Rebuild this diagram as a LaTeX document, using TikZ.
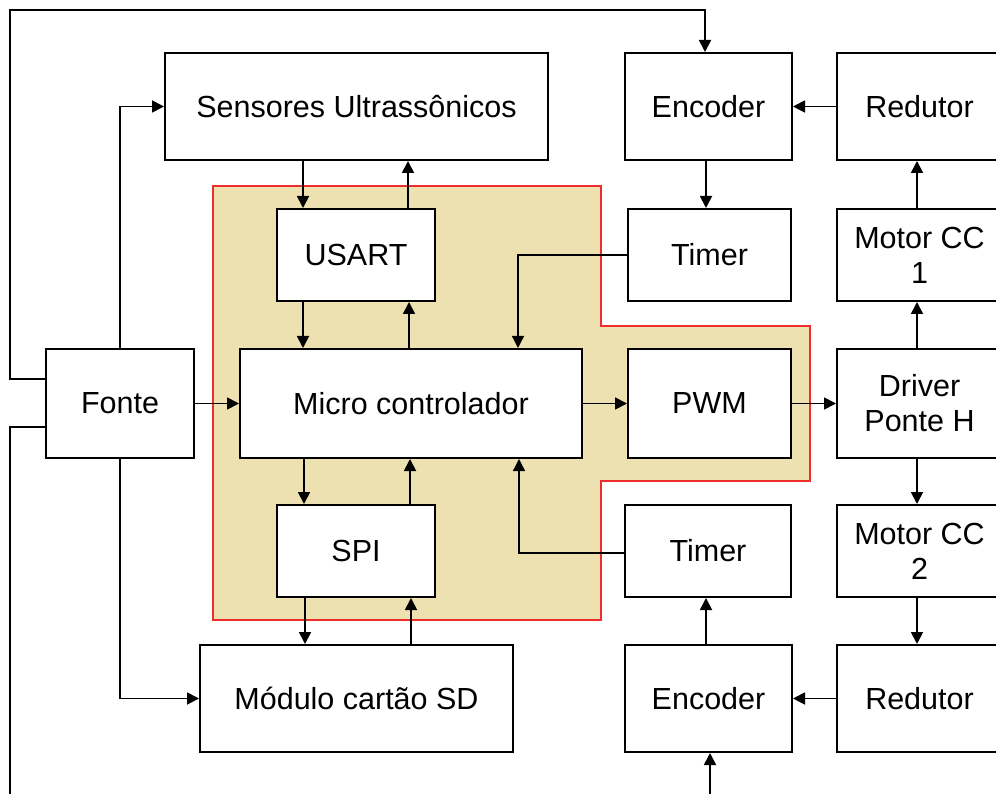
\documentclass[tikz,border=0pt]{standalone}
\usepackage{fontspec}
\setmainfont{Liberation Sans}
\usetikzlibrary{arrows.meta,calc}
\definecolor{beige}{RGB}{238,225,177}
\definecolor{redl}{RGB}{240,45,45}
\begin{document}
\begin{tikzpicture}[x=1pt,y=-1pt,
 box/.style={draw,line width=2pt,fill=white,rectangle,inner sep=0pt,align=center,font=\fontsize{30.5}{35}\selectfont},
 conn/.style={line width=1.8pt,-{Triangle[length=12pt,width=12pt]}},
 thinconn/.style={line width=1.3pt,-{Triangle[length=12pt,width=12pt]}},
 plain/.style={line width=1.8pt}]
\clip (0,0) rectangle (996,794);
\fill[beige,draw=redl,line width=1.3pt] (213,186) -- (601,186) -- (601,326) -- (810,326) -- (810,481) -- (601,481) -- (601,620) -- (213,620) -- cycle;
% nodes
\node[box,minimum width=383pt,minimum height=107pt] (sens) at (356.5,106.5) {Sensores Ultrassônicos};
\node[box,minimum width=167pt,minimum height=107pt] (encT) at (708.5,106.5) {Encoder};
\node[box,minimum width=165pt,minimum height=107pt] (redT) at (919.5,106.5) {Redutor};
\node[box,minimum width=158pt,minimum height=92pt] (usart) at (356,255) {USART};
\node[box,minimum width=163pt,minimum height=92pt] (timerT) at (709.5,255) {Timer};
\node[box,minimum width=165pt,minimum height=92pt] (motor1) at (919.5,255) {Motor CC\\1};
\node[box,minimum width=148pt,minimum height=109pt] (fonte) at (120,403.5) {Fonte};
\node[box,minimum width=342pt,minimum height=109pt] (micro) at (411,403.5) {Micro controlador};
\node[box,minimum width=163pt,minimum height=109pt] (pwm) at (709.5,403.5) {PWM};
\node[box,minimum width=165pt,minimum height=109pt] (driver) at (919.5,403.5) {Driver\\Ponte H};
\node[box,minimum width=158pt,minimum height=92pt] (spi) at (356,551) {SPI};
\node[box,minimum width=166pt,minimum height=92pt] (timerB) at (708,551) {Timer};
\node[box,minimum width=165pt,minimum height=92pt] (motor2) at (919.5,551) {Motor CC\\2};
\node[box,minimum width=313pt,minimum height=107pt] (modulo) at (356.5,698.5) {Módulo cartão SD};
\node[box,minimum width=167pt,minimum height=107pt] (encB) at (708.5,698.5) {Encoder};
\node[box,minimum width=165pt,minimum height=107pt] (redB) at (919.5,698.5) {Redutor};
% free ends / corners
\coordinate (cTL) at (10,10);
\coordinate (cBL) at (10,794);
\coordinate (cBR) at (710,794);
% Fonte connections
\draw[conn] (fonte.west |- 0,379) -| (cTL) -| (encT.north -| 705,0);
\draw[plain] (fonte.west |- 0,427) -| (cBL);
\draw[conn] (fonte.north) |- (sens.west);
\draw[conn] (fonte.south) |- (modulo.west);
\draw[conn] (fonte.east) -- (micro.west);
% bus column
\draw[conn] (sens.south -| 303,0) -- (usart.north -| 303,0);
\draw[conn] (usart.north -| 408,0) -- (sens.south -| 408,0);
\draw[conn] (usart.south -| 303,0) -- (micro.north -| 303,0);
\draw[conn] (micro.north -| 409,0) -- (usart.south -| 409,0);
\draw[conn] (micro.south -| 304,0) -- (spi.north -| 304,0);
\draw[conn] (spi.north -| 410,0) -- (micro.south -| 410,0);
\draw[conn] (spi.south -| 305,0) -- (modulo.north -| 305,0);
\draw[conn] (modulo.north -| 411,0) -- (spi.south -| 411,0);
% PWM chain
\draw[conn] (micro.east) -- (pwm.west);
\draw[conn] (pwm.east) -- (driver.west);
% right column
\draw[conn] (encT.south -| 706,0) -- (timerT.north -| 706,0);
\draw[conn] (redT.west) -- (encT.east);
\draw[conn] (motor1.north -| 917,0) -- (redT.south -| 917,0);
\draw[conn] (driver.north -| 917,0) -- (motor1.south -| 917,0);
\draw[conn] (driver.south -| 917,0) -- (motor2.north -| 917,0);
\draw[conn] (motor2.south -| 917,0) -- (redB.north -| 917,0);
\draw[conn] (redB.west) -- (encB.east);
\draw[conn] (encB.north -| 706,0) -- (timerB.south -| 706,0);
\draw[conn] (cBR) -- (encB.south -| cBR);
% timers to micro
\draw[thinconn] (timerT.west) -| (micro.north -| 518,0);
\draw[thinconn] (timerB.west |- 0,553) -| (micro.south -| 519,0);
\end{tikzpicture}
\end{document}
